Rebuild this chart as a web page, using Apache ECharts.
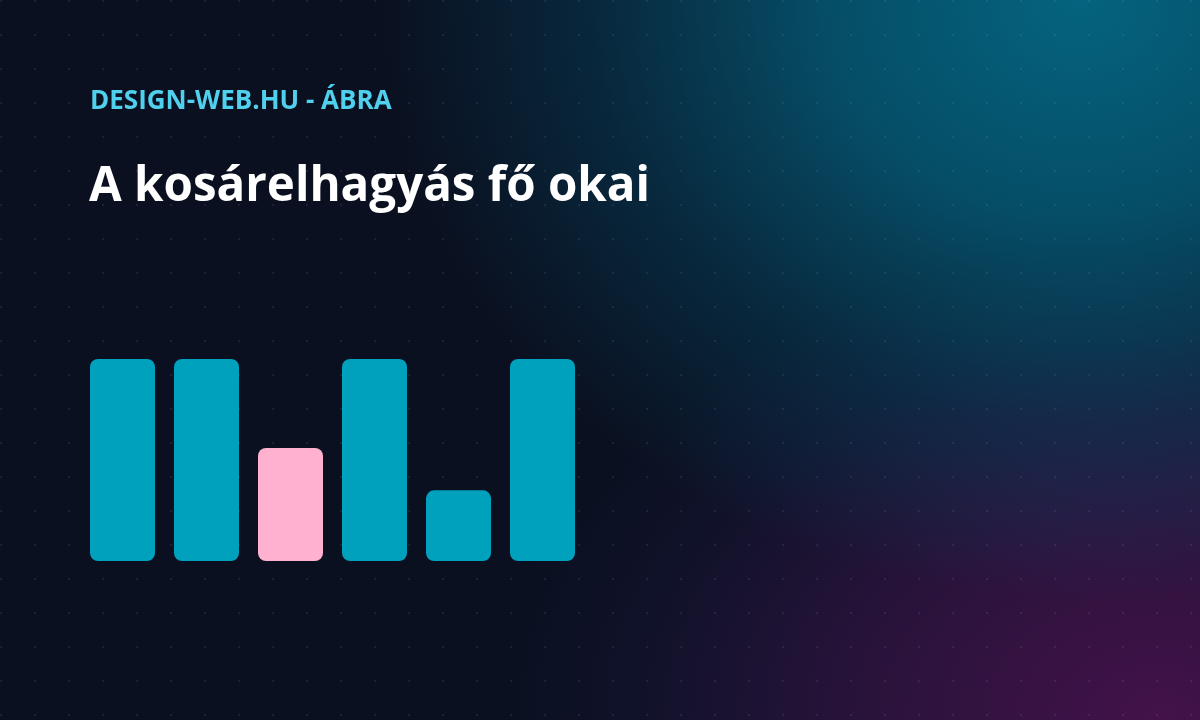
<!DOCTYPE html>
<html>
<head>
<meta charset="utf-8">
<script src="https://cdn.jsdelivr.net/npm/echarts@6/dist/echarts.min.js"></script>
<style>
  html, body { margin: 0; padding: 0; width: 1200px; height: 720px; overflow: hidden; }
  #bg {
    position: absolute; left: 0; top: 0; width: 1200px; height: 720px;
    background-color: #0a1020;
    background-image:
      radial-gradient(circle at 1px 1px, rgba(160,200,230,0.10) 1px, transparent 1.6px),
      radial-gradient(ellipse 700px 600px at 1080px 0px, rgba(0,160,196,0.58) 0%, rgba(0,150,186,0.46) 36%, rgba(0,130,170,0.20) 70%, rgba(0,110,150,0) 100%),
      radial-gradient(ellipse 660px 470px at 1160px 720px, rgba(120,20,112,0.52) 0%, rgba(100,24,110,0.34) 45%, rgba(60,34,110,0.12) 80%, rgba(40,30,90,0) 100%);
    background-size: 34px 34px, 100% 100%, 100% 100%;
    background-repeat: repeat, no-repeat, no-repeat;
  }
  #chart { position: absolute; left: 0; top: 0; width: 1200px; height: 720px; }
</style>
</head>
<body>
<div id="bg"></div>
<div id="chart"></div>
<script>
const kicker = "DESIGN-WEB.HU - ÁBRA";
const titleText = "A kosárelhagyás fő okai";
const categories = ["1", "2", "3", "4", "5", "6"];
const values = [100, 100, 56, 100, 35, 100];
const highlighted = [false, false, true, false, false, false];

const chart = echarts.init(document.getElementById('chart'), null, { renderer: 'canvas' });
chart.setOption({
  backgroundColor: 'transparent',
  animation: false,
  title: [
    {
      text: kicker,
      left: 90, top: 88.5, padding: 0,
      textStyle: { color: '#4fd0ec', fontSize: 26, fontWeight: 'bold', fontFamily: 'Open Sans' }
    },
    {
      text: titleText,
      left: 89, top: 163, padding: 0,
      textStyle: { color: '#ffffff', fontSize: 47.5, fontWeight: 'bold', fontFamily: 'Open Sans' }
    }
  ],
  grid: { left: 80.5, width: 504, top: 359, bottom: 159, containLabel: false },
  xAxis: {
    type: 'category', data: categories, show: false
  },
  yAxis: { type: 'value', min: 0, max: 100, show: false },
  series: [{
    type: 'bar',
    barWidth: 65,
    data: values.map((v, i) => ({
      value: v,
      itemStyle: { color: highlighted[i] ? '#ffb1cf' : '#00a1bd' }
    })),
    itemStyle: { borderRadius: 8 }
  }]
});
</script>
</body>
</html>
